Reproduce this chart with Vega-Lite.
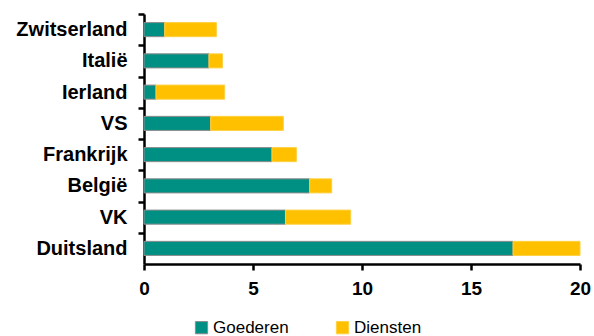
{
  "$schema": "https://vega.github.io/schema/vega-lite/v6.json",
  "width": 436,
  "height": 250,
  "autosize": "none",
  "padding": {"left": 144, "top": 14, "right": 14, "bottom": 72},
  "background": "white",
  "data": {"values": [
    {"land": "Zwitserland", "soort": "Goederen", "k": 1, "waarde": 0.95},
    {"land": "Zwitserland", "soort": "Diensten", "k": 2, "waarde": 2.37},
    {"land": "Italië", "soort": "Goederen", "k": 1, "waarde": 2.98},
    {"land": "Italië", "soort": "Diensten", "k": 2, "waarde": 0.62},
    {"land": "Ierland", "soort": "Goederen", "k": 1, "waarde": 0.55},
    {"land": "Ierland", "soort": "Diensten", "k": 2, "waarde": 3.15},
    {"land": "VS", "soort": "Goederen", "k": 1, "waarde": 3.06},
    {"land": "VS", "soort": "Diensten", "k": 2, "waarde": 3.33},
    {"land": "Frankrijk", "soort": "Goederen", "k": 1, "waarde": 5.87},
    {"land": "Frankrijk", "soort": "Diensten", "k": 2, "waarde": 1.12},
    {"land": "België", "soort": "Goederen", "k": 1, "waarde": 7.6},
    {"land": "België", "soort": "Diensten", "k": 2, "waarde": 1.01},
    {"land": "VK", "soort": "Goederen", "k": 1, "waarde": 6.49},
    {"land": "VK", "soort": "Diensten", "k": 2, "waarde": 2.99},
    {"land": "Duitsland", "soort": "Goederen", "k": 1, "waarde": 16.93},
    {"land": "Duitsland", "soort": "Diensten", "k": 2, "waarde": 3.07}
  ]},
  "mark": {"type": "bar", "strokeWidth": 1},
  "encoding": {
    "y": {
      "field": "land", "type": "nominal", "title": null,
      "sort": ["Zwitserland", "Italië", "Ierland", "VS", "Frankrijk", "België", "VK", "Duitsland"],
      "scale": {"paddingInner": 0.55, "paddingOuter": 0.275},
      "axis": {
        "domainColor": "black", "domainWidth": 2.5,
        "tickColor": "black", "tickWidth": 2.5, "tickSize": 6, "tickOffset": -15.6,
        "labelOffset": 15.6,
        "labelFont": "Liberation Sans", "labelFontWeight": "bold", "labelFontSize": 20,
        "labelColor": "black", "labelPadding": 11, "labelLimit": 200
      }
    },
    "x": {
      "field": "waarde", "type": "quantitative", "title": null, "stack": "zero",
      "scale": {"domain": [0, 20], "nice": false},
      "axis": {
        "values": [0, 5, 10, 15, 20], "grid": false,
        "domainColor": "black", "domainWidth": 2.5,
        "tickColor": "black", "tickWidth": 2.5, "tickSize": 6,
        "labelFont": "Liberation Sans", "labelFontWeight": "bold", "labelFontSize": 19,
        "labelColor": "black", "labelPadding": 9, "labelFlush": false
      }
    },
    "order": {"field": "k", "type": "quantitative"},
    "color": {
      "field": "soort", "type": "nominal", "title": null,
      "scale": {"domain": ["Goederen", "Diensten"], "range": ["#009083", "#FFC000"]},
      "legend": {
        "orient": "none", "legendX": 49, "legendY": 305, "direction": "horizontal",
        "symbolType": "square", "symbolSize": 150, "symbolStrokeWidth": 1,
        "labelFont": "Liberation Sans", "labelFontSize": 17, "labelColor": "black",
        "labelOffset": 3, "columnPadding": 45
      }
    },
    "stroke": {
      "field": "soort", "type": "nominal", "legend": null,
      "scale": {"domain": ["Goederen", "Diensten"], "range": ["#8c8c8c", "#FFD040"]}
    }
  },
  "config": {"view": {"stroke": null}}
}
